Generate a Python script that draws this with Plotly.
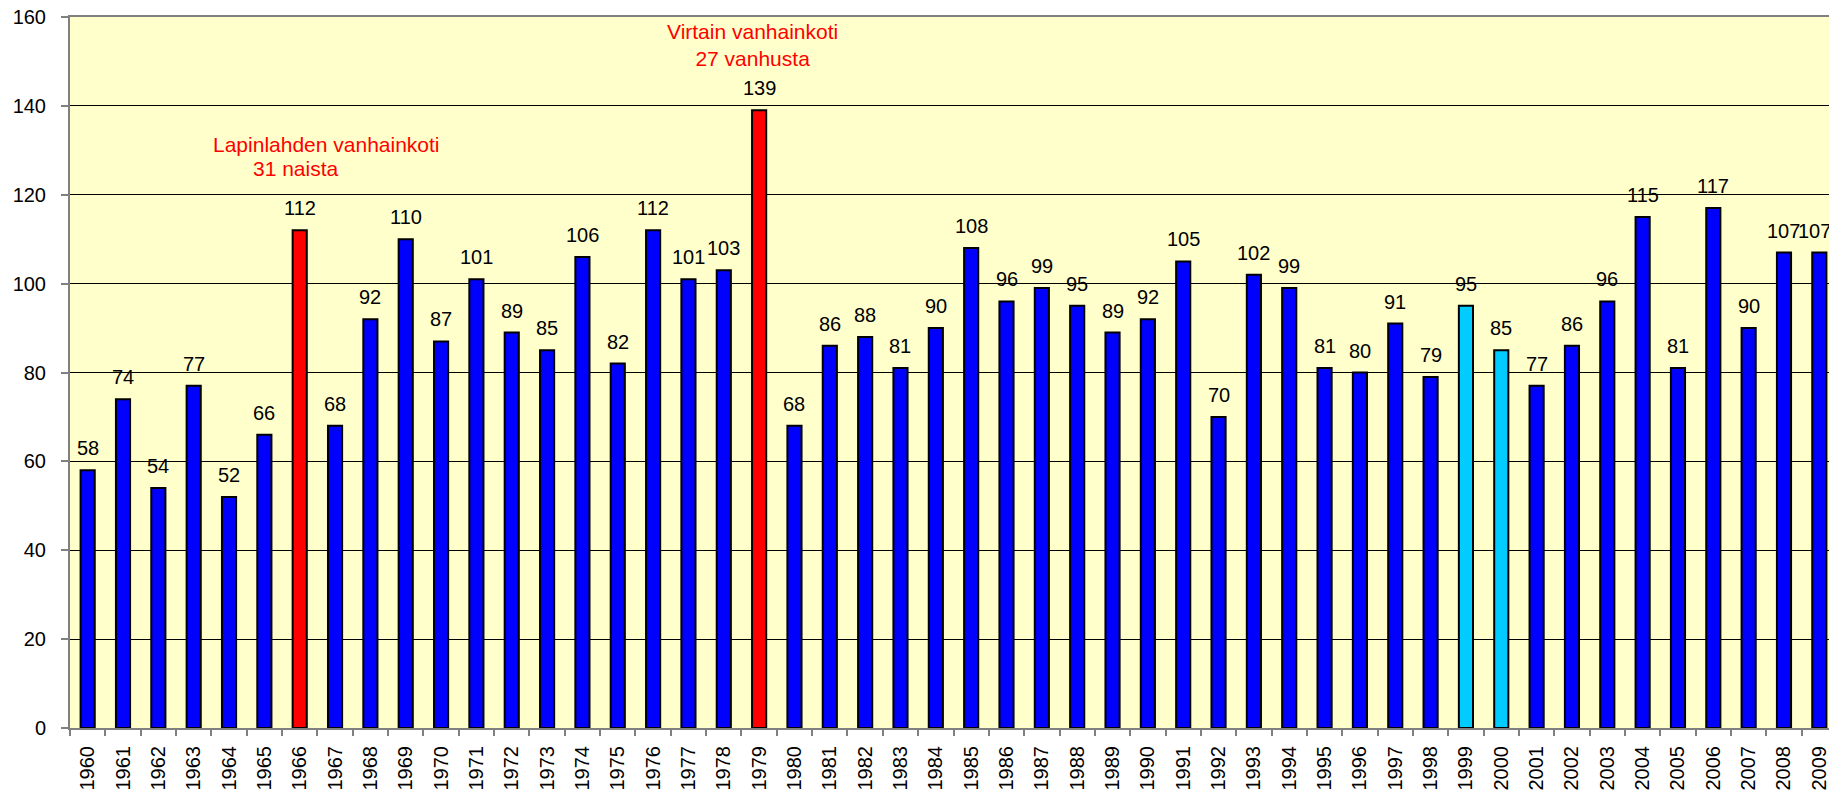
import plotly.graph_objects as go

years = [str(y) for y in range(1960, 2010)]
values = [58, 74, 54, 77, 52, 66, 112, 68, 92, 110,
          87, 101, 89, 85, 106, 82, 112, 101, 103, 139,
          68, 86, 88, 81, 90, 108, 96, 99, 95, 89,
          92, 105, 70, 102, 99, 81, 80, 91, 79, 95,
          85, 77, 86, 96, 115, 81, 117, 90, 107, 107]
highlight_red = ["1966", "1979"]
highlight_cyan = ["1999", "2000"]

colors = []
for y in years:
    if y in highlight_red:
        colors.append("#FF0000")
    elif y in highlight_cyan:
        colors.append("#00CCFF")
    else:
        colors.append("#0000FF")

FONT = "Liberation Sans, Arial, sans-serif"

fig = go.Figure()
fig.add_trace(go.Bar(
    x=years, y=values,
    marker=dict(color=colors, line=dict(color="#000000", width=2)),
    hoverinfo="x+y",
))

annotations = []
for i, v in enumerate(values):
    annotations.append(dict(
        x=i, y=v, xref="x", yref="y", text=str(v), showarrow=False,
        xanchor="center", yanchor="bottom", yshift=9,
        xshift=(-5 if i == len(values) - 1 else 0),
        font=dict(family=FONT, size=20, color="#000000"),
    ))

annotations.append(dict(
    x=0.1454, y=131.4, xref="paper", yref="y", text="Lapinlahden vanhainkoti",
    xanchor="center", yanchor="middle",
    showarrow=False, font=dict(family=FONT, size=21, color="#FF0000"),
))
annotations.append(dict(
    x=0.1279, y=125.8, xref="paper", yref="y", text="31 naista",
    xanchor="center", yanchor="middle",
    showarrow=False, font=dict(family=FONT, size=21, color="#FF0000"),
))
annotations.append(dict(
    x=0.3865, y=153.8, xref="paper", yref="y", text="Virtain vanhainkoti<br>27 vanhusta",
    xanchor="center", yanchor="middle",
    showarrow=False, font=dict(family=FONT, size=21, color="#FF0000"),
))

fig.update_layout(
    width=1829, height=793,
    margin=dict(l=62, r=0, t=9, b=73, autoexpand=False),
    paper_bgcolor="#FFFFFF",
    plot_bgcolor="#FFFFCC",
    bargap=0.6,
    showlegend=False,
    font=dict(family=FONT, size=20, color="#000000"),
    annotations=annotations,
)
fig.update_xaxes(
    type="category",
    range=[-0.5, len(years) - 0.5],
    tickangle=-90,
    ticks="outside", tickson="boundaries", ticklen=6, tickcolor="#808080", tickwidth=2,
    ticklabelstandoff=8,
    showline=True, linecolor="#808080", linewidth=2, mirror=True,
    showgrid=False,
    tickfont=dict(family=FONT, size=20, color="#000000"),
)
fig.update_yaxes(
    range=[0, 160], dtick=20,
    ticks="outside", ticklen=7, tickcolor="#808080", tickwidth=2,
    ticklabelstandoff=11, ticklabeloverflow="allow",
    showline=True, linecolor="#808080", linewidth=2,
    showgrid=True, gridcolor="#000000", gridwidth=1,
    zeroline=False,
    tickfont=dict(family=FONT, size=20, color="#000000"),
)

fig.write_html("out.html")
